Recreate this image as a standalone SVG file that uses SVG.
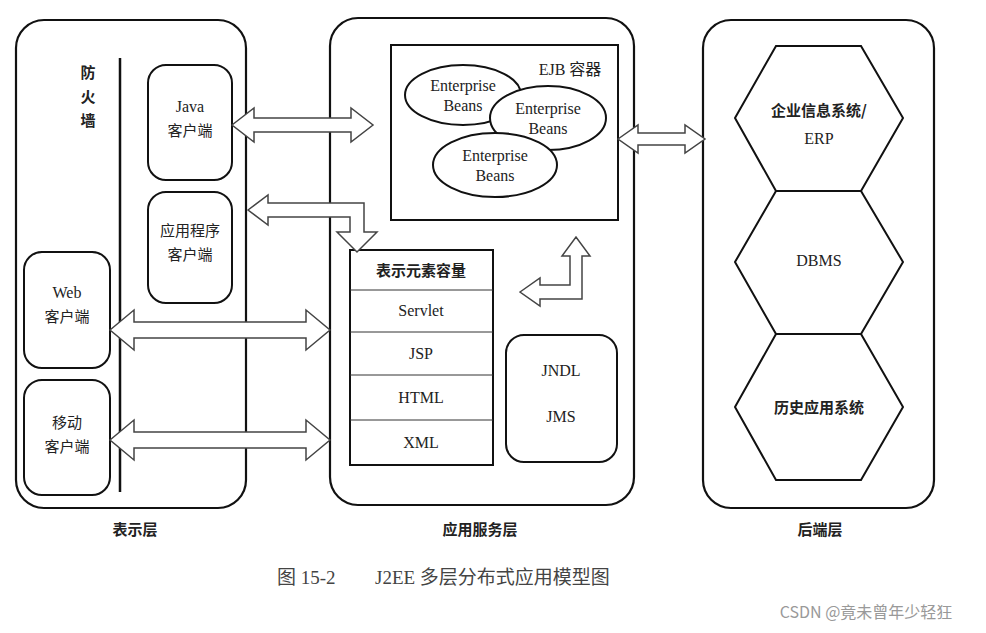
<svg xmlns="http://www.w3.org/2000/svg" width="986" height="633" viewBox="0 0 986 633">
<style>
.p{fill:none;stroke:#111;stroke-width:2.2}
.b{fill:#fff;stroke:#111;stroke-width:2}
.a{fill:#fff;stroke:#444;stroke-width:1.5}
text{font-family:"Liberation Serif","Noto Sans CJK SC",serif;font-size:16px;fill:#222;text-anchor:middle}
.c{font-family:"Noto Sans CJK SC",sans-serif;font-size:15px}
.bold{font-weight:bold}
.cap{font-size:19px;fill:#444;text-anchor:start}
.wm{font-family:"Noto Sans CJK SC",sans-serif;font-size:16px;fill:#999}
</style>
<rect width="986" height="633" fill="#fff"/>
<g id="presentation-layer">
<rect class="p" x="16" y="20" width="230" height="488" rx="28"/>
<line x1="120" y1="58" x2="120" y2="492" stroke="#111" stroke-width="2.5"/>
<text class="c bold" x="88" y="78">防</text><text class="c bold" x="88" y="102">火</text><text class="c bold" x="88" y="126">墙</text>
</g>
<g id="java-client"><rect class="b" x="148" y="65" width="84" height="115" rx="18"/><text x="190" y="112">Java</text><text class="c" x="190" y="136">客户端</text></g>
<g id="app-client"><rect class="b" x="148" y="192" width="84" height="111" rx="18"/><text class="c" x="190" y="236">应用程序</text><text class="c" x="190" y="260">客户端</text></g>
<g id="web-client"><rect class="b" x="24" y="252" width="86" height="116" rx="18"/><text x="67" y="298">Web</text><text class="c" x="67" y="322">客户端</text></g>
<g id="mobile-client"><rect class="b" x="24" y="380" width="86" height="115" rx="18"/><text class="c" x="67" y="428">移动</text><text class="c" x="67" y="452">客户端</text></g>
<g id="app-service-layer"><rect class="p" x="330" y="18" width="304" height="487" rx="28"/></g>
<g id="ejb-container">
<rect class="b" x="391" y="45" width="227" height="175"/>
<text x="570" y="75">EJB 容器</text>
<ellipse class="b" cx="463" cy="95" rx="58" ry="30"/><text x="463" y="91">Enterprise</text><text x="463" y="111">Beans</text>
<ellipse class="b" cx="548" cy="118" rx="58" ry="32"/><text x="548" y="114">Enterprise</text><text x="548" y="134">Beans</text>
<ellipse class="b" cx="495" cy="165" rx="62" ry="32" stroke="#333" stroke-width="1.5"/><text x="495" y="161">Enterprise</text><text x="495" y="181">Beans</text>
</g>
<g id="presentation-container">
<rect class="b" x="350" y="250" width="143" height="215"/>
<line x1="350" y1="290" x2="493" y2="290" stroke="#333"/><line x1="350" y1="332" x2="493" y2="332" stroke="#333"/><line x1="350" y1="375" x2="493" y2="375" stroke="#333"/><line x1="350" y1="420" x2="493" y2="420" stroke="#333"/>
<text class="c bold" x="421" y="276">表示元素容量</text>
<text x="421" y="316">Servlet</text><text x="421" y="359">JSP</text><text x="421" y="403">HTML</text><text x="421" y="448">XML</text>
</g>
<g id="jndl"><rect class="b" x="506" y="335" width="111" height="127" rx="18"/><text x="561" y="376">JNDL</text><text x="561" y="422">JMS</text></g>
<g id="backend-layer"><rect class="p" x="703" y="20" width="231" height="488" rx="28"/></g>
<g id="erp"><polygon class="b" points="735,118 776,46 861,46 903,118 861,191 776,191"/><text class="c bold" x="819" y="116">企业信息系统/</text><text x="819" y="144">ERP</text></g>
<g id="dbms"><polygon class="b" points="735,262 776,191 861,191 903,262 861,334 776,334"/><text x="819" y="266">DBMS</text></g>
<g id="legacy"><polygon class="b" points="735,407 776,334 861,334 903,407 861,480 776,480"/><text class="c bold" x="819" y="413">历史应用系统</text></g>
<g id="connectors">
<polygon class="a" points="232,125 254,108 254,118 351,118 351,108 373,125 351,142 351,132 254,132 254,142"/>
<polygon class="a" points="618,139 638,125 638,133 685,133 685,125 705,139 685,153 685,145 638,145 638,153"/>
<polygon class="a" points="110,330 134,310 134,322 306,322 306,310 330,330 306,350 306,338 134,338 134,350"/>
<polygon class="a" points="110,440 134,420 134,432 306,432 306,420 330,440 306,460 306,448 134,448 134,460"/>
<polygon class="a" points="248,210 268,195 268,203 364,203 364,232 377,232 357,252 337,232 350,232 350,217 268,217 268,225"/>
<polygon class="a" points="520,292 540,278 540,285 570,285 570,256 562,256 576,237 590,256 582,256 582,299 540,299 540,306"/>
</g>
<text class="c bold" x="135" y="535">表示层</text>
<text class="c bold" x="480" y="535">应用服务层</text>
<text class="c bold" x="820" y="535">后端层</text>
<text class="cap" x="277" y="584">图 15-2</text>
<text class="cap" x="375" y="584">J2EE 多层分布式应用模型图</text>
<text class="wm" x="866" y="618">CSDN @竟未曾年少轻狂</text>
</svg>
